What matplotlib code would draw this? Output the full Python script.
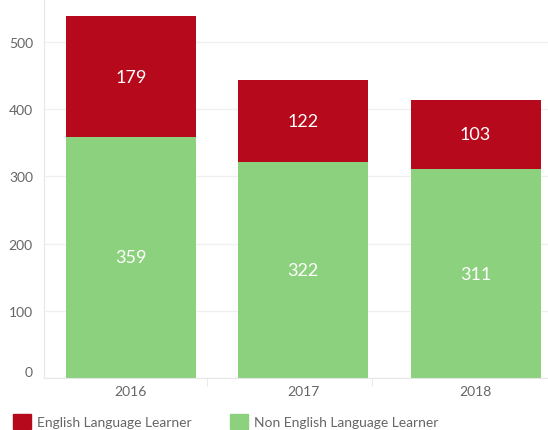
import matplotlib
matplotlib.use("Agg")
import matplotlib.pyplot as plt
from matplotlib.patches import Patch

years = ["2016", "2017", "2018"]
ell = [179, 122, 103]
non_ell = [359, 322, 311]

red = "#B60A1C"
green = "#8CD17D"
grey_txt = "#666666"
grid_col = "#F0F0F0"

plt.rcParams["font.family"] = ["Lato", "DejaVu Sans"]

fig = plt.figure(figsize=(5.48, 4.31), dpi=100)
ax = fig.add_axes([44 / 548, 52 / 431, 1 - 44 / 548, 379 / 431])

x = range(len(years))
ax.bar(x, non_ell, width=0.754, color=green, zorder=2)
ax.bar(x, ell, width=0.754, bottom=non_ell, color=red, zorder=2)

# value labels in the middle of each segment
for i in x:
    ax.text(i, non_ell[i] / 2, str(non_ell[i]), color="white",
            ha="center", va="center", fontsize=13)
    ax.text(i, non_ell[i] + ell[i] / 2, str(ell[i]), color="white",
            ha="center", va="center", fontsize=13)

ax.set_xlim(-0.504, 2.42)
ax.set_ylim(0, 564)
ax.set_yticks([0, 100, 200, 300, 400, 500])
ax.set_xticks(list(x))
ax.set_xticklabels(years)
ax.set_xticks([0.44, 1.40], minor=True)
ax.tick_params(axis="y", length=0, pad=8, labelsize=10, labelcolor=grey_txt)
ax.tick_params(axis="x", which="major", length=0, pad=5, labelsize=10,
               labelcolor=grey_txt)
ax.tick_params(axis="x", which="minor", length=6, color="#E6E6E6")
ax.grid(axis="y", color=grid_col, linewidth=1, zorder=0)

# nudge the zero label up like the reference
for lbl in ax.get_yticklabels():
    if lbl.get_text() == "0":
        lbl.set_va("bottom")

for s in ["top", "right"]:
    ax.spines[s].set_visible(False)
ax.spines["left"].set_color("#E6E6E6")
ax.spines["bottom"].set_color("#E6E6E6")

handles = [Patch(color=red, label="English Language Learner"),
           Patch(color=green, label="Non English Language Learner")]
fig.legend(handles=handles, loc="lower left", bbox_to_anchor=(13 / 548, 1 / 431),
           ncol=2, frameon=False, fontsize=10, labelcolor=grey_txt,
           handlelength=1.3, handleheight=1.3, handletextpad=0.4,
           columnspacing=2.8, borderpad=0, borderaxespad=0)

fig.savefig("out.png", dpi=100)
